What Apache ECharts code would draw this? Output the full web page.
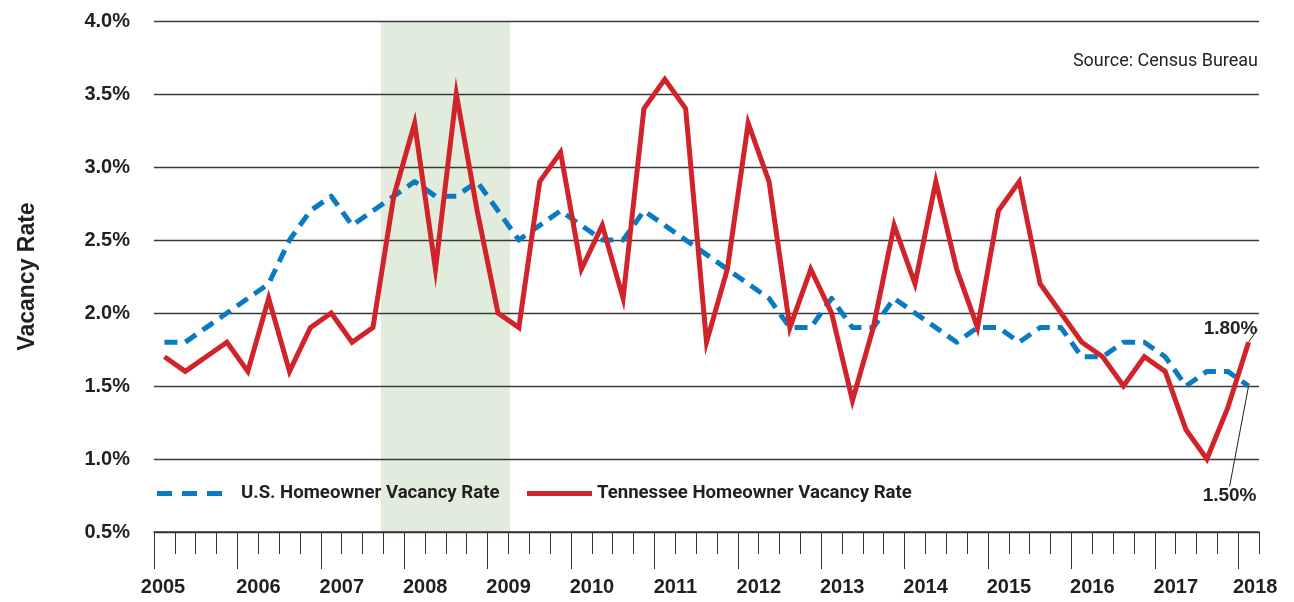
<!DOCTYPE html>
<html>
<head>
<meta charset="utf-8">
<title>Homeowner Vacancy Rate</title>
<script src="https://cdn.jsdelivr.net/npm/echarts@6/dist/echarts.min.js"></script>
<style>
  html, body { margin: 0; padding: 0; background: #fff; }
  #chart { width: 1294px; height: 602px; }
</style>
</head>
<body>
<div id="chart"></div>
<script>
// quarterly series, 2005 Q1 .. 2018 Q1
const firstYear = 2005
const usRate = [
  1.8, 1.8, 1.9, 2.0, 2.1, 2.2, 2.5, 2.7, 2.8, 2.6,
  2.7, 2.8, 2.9, 2.8, 2.8, 2.9, 2.7, 2.5, 2.6, 2.7,
  2.6, 2.5, 2.5, 2.7, 2.6, 2.5, 2.4, 2.3, 2.2, 2.1,
  1.9, 1.9, 2.1, 1.9, 1.9, 2.1, 2.0, 1.9, 1.8, 1.9,
  1.9, 1.8, 1.9, 1.9, 1.7, 1.7, 1.8, 1.8, 1.7, 1.5,
  1.6, 1.6, 1.5
]
const tnRate = [
  1.7, 1.6, 1.7, 1.8, 1.6, 2.1, 1.6, 1.9, 2.0, 1.8,
  1.9, 2.8, 3.3, 2.3, 3.5, 2.7, 2.0, 1.9, 2.9, 3.1,
  2.3, 2.6, 2.1, 3.4, 3.6, 3.4, 1.8, 2.3, 3.3, 2.9,
  1.9, 2.3, 2.0, 1.4, 1.9, 2.6, 2.2, 2.9, 2.3, 1.9,
  2.7, 2.9, 2.2, 2.0, 1.8, 1.7, 1.5, 1.7, 1.6, 1.2,
  1.0, 1.35, 1.8
]
const seriesNames = ['U.S. Homeowner Vacancy Rate', 'Tennessee Homeowner Vacancy Rate']
const recession = [2007.72, 2009.27]
const yMin = 0.5
const yMax = 4.0
const yStep = 0.5

const textColor = '#231f20'
const numFont = "'Liberation Sans', Arial, sans-serif"
const textFont = "Roboto, 'Liberation Sans', sans-serif"
const usColor = '#0a7bc2'
const tnColor = '#d1232a'

const plotLeft = 154
const plotRight = 35
const plotWidth = 1294 - plotLeft - plotRight
const quarterCount = usRate.length
const quarterWidth = plotWidth / quarterCount
const xMax = firstYear + quarterCount / 4

function toPoints(values) {
  return values.map((v, i) => [firstYear + (i + 0.5) / 4, v])
}

// last point carries the value callout
function withEndLabel(values, position) {
  const points = toPoints(values)
  const last = points.length - 1
  points[last] = {
    value: points[last],
    symbol: 'circle',
    symbolSize: 1,
    label: {
      show: true,
      position: position,
      formatter: (p) => p.value[1].toFixed(2) + '%',
      color: textColor,
      fontFamily: numFont,
      fontWeight: 'bold',
      fontSize: 19
    }
  }
  return points
}

function nudge(dx, dy) {
  return function (params) {
    const r = params.labelRect
    return {
      x: r.x + r.width / 2 + dx,
      y: r.y + r.height / 2 + dy,
      align: 'center',
      verticalAlign: 'middle'
    }
  }
}

function yearLabel(value) {
  if (!Number.isInteger(value)) return ''
  if (value === firstYear) return '{first|' + value + '}'
  if (value === Math.floor(xMax)) return '{last|' + value + '}'
  return '{mid|' + value + '}'
}

const yearStyle = {
  fontFamily: numFont,
  fontWeight: 'bold',
  fontSize: 20,
  color: textColor
}

const legendText = {
  fontFamily: textFont,
  fontWeight: 'bold',
  fontSize: 18.6,
  color: textColor
}

const chart = echarts.init(document.getElementById('chart'))

chart.setOption({
  animation: false,
  backgroundColor: '#fff',
  title: {
    text: 'Source: Census Bureau',
    right: 36,
    top: 52,
    padding: 0,
    textStyle: {
      fontFamily: textFont,
      fontWeight: 'normal',
      fontSize: 18,
      color: textColor
    }
  },
  legend: [
    {
      data: [{ name: seriesNames[0], icon: 'path://M0,0h15v5h-15z M25,0h15v5h-15z M50,0h15v5h-15z' }],
      left: 157,
      top: 484,
      padding: 0,
      itemWidth: 65,
      itemHeight: 5,
      itemStyle: { color: usColor },
      textStyle: Object.assign({ padding: [0, 0, 0, 14] }, legendText)
    },
    {
      data: [{ name: seriesNames[1], icon: 'rect' }],
      left: 527,
      top: 484,
      padding: 0,
      itemWidth: 65,
      itemHeight: 5,
      itemStyle: { color: tnColor },
      textStyle: legendText
    }
  ],
  grid: [
    { left: plotLeft, right: plotRight, top: 21, bottom: 70 },
    { left: plotLeft, right: plotRight + quarterWidth, top: 21, bottom: 70 }
  ],
  xAxis: [
    {
      type: 'value',
      gridIndex: 0,
      min: firstYear,
      max: xMax,
      interval: 0.25,
      splitLine: { show: false },
      axisLine: { show: true, lineStyle: { color: '#333', width: 1.5 } },
      axisTick: { show: true, length: 22, lineStyle: { color: '#333', width: 1 } },
      axisLabel: {
        margin: 45,
        showMinLabel: true,
        showMaxLabel: true,
        formatter: yearLabel,
        rich: {
          first: Object.assign({ padding: [0, 0, 0, 18] }, yearStyle),
          mid: Object.assign({ padding: [0, 0, 0, 42] }, yearStyle),
          last: Object.assign({ padding: [0, 0, 0, 34] }, yearStyle)
        }
      }
    },
    {
      // long year ticks
      type: 'value',
      gridIndex: 1,
      min: firstYear,
      max: Math.floor(xMax),
      interval: 1,
      splitLine: { show: false },
      axisLine: { show: false },
      axisLabel: { show: false },
      axisTick: { show: true, length: 37, lineStyle: { color: '#333', width: 1 } }
    }
  ],
  yAxis: [
    {
      type: 'value',
      gridIndex: 0,
      min: yMin,
      max: yMax,
      interval: yStep,
      name: 'Vacancy Rate',
      nameLocation: 'middle',
      nameRotate: 90,
      nameGap: 115,
      nameTextStyle: {
        fontFamily: numFont,
        fontWeight: 'bold',
        fontSize: 23,
        color: textColor
      },
      axisLine: { show: false },
      axisTick: { show: false },
      splitLine: { lineStyle: { color: '#3a3a3a', width: 1.3 } },
      axisLabel: {
        margin: 24,
        formatter: (v) => v.toFixed(1) + '%',
        fontFamily: numFont,
        fontWeight: 'bold',
        fontSize: 20,
        color: textColor
      }
    },
    {
      type: 'value',
      gridIndex: 1,
      min: yMin,
      max: yMax,
      show: false
    }
  ],
  series: [
    {
      name: 'Recession',
      type: 'line',
      data: [],
      markArea: {
        silent: true,
        z: -1,
        itemStyle: { color: '#e1ecdc' },
        data: [[{ xAxis: recession[0] }, { xAxis: recession[1] }]]
      }
    },
    {
      name: seriesNames[0],
      type: 'line',
      z: 3,
      data: withEndLabel(usRate, 'bottom'),
      symbol: 'none',
      lineStyle: { color: usColor, width: 5, type: [13, 8], join: 'round' },
      itemStyle: { color: usColor },
      labelLayout: nudge(-19, 95),
      labelLine: { show: true, lineStyle: { color: textColor, width: 1 } }
    },
    {
      name: seriesNames[1],
      type: 'line',
      z: 4,
      data: withEndLabel(tnRate, 'top'),
      symbol: 'none',
      lineStyle: { color: tnColor, width: 5, join: 'miter', miterLimit: 10 },
      itemStyle: { color: tnColor },
      labelLayout: nudge(-18, 2),
      labelLine: { show: true, lineStyle: { color: textColor, width: 1 } }
    }
  ]
})
</script>
</body>
</html>
